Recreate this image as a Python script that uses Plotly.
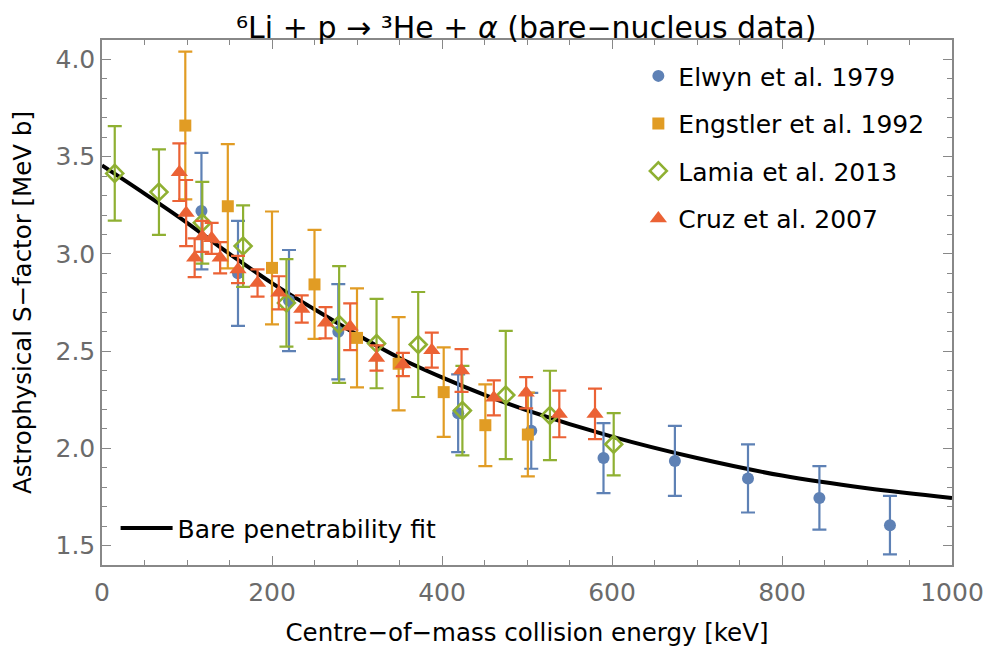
import plotly.graph_objects as go

# Elwyn et al. 1979
elwyn_e = [117, 160, 220, 278, 419, 505, 590, 674, 760, 844, 927]
elwyn_s = [3.22, 2.90, 2.76, 2.60, 2.18, 2.09, 1.95, 1.935, 1.845, 1.745, 1.605]
elwyn_err = [0.30, 0.27, 0.26, 0.245, 0.20, 0.195, 0.18, 0.18, 0.175, 0.163, 0.15]

# Engstler et al. 1992
engstler_e = [98, 148, 200, 250, 300, 349, 402, 451, 501]
engstler_s = [3.66, 3.245, 2.928, 2.843, 2.568, 2.435, 2.289, 2.119, 2.071]
engstler_err = [0.38, 0.32, 0.29, 0.28, 0.255, 0.24, 0.23, 0.21, 0.215]

# Lamia et al. 2013
lamia_e = [15, 67, 118, 166, 217, 279, 323, 372, 424, 475, 527, 602]
lamia_s = [3.414, 3.318, 3.16, 3.04, 2.748, 2.637, 2.539, 2.534, 2.194, 2.274, 2.169, 2.021]
lamia_err = [0.243, 0.22, 0.21, 0.21, 0.225, 0.30, 0.23, 0.27, 0.23, 0.33, 0.23, 0.16]

# Cruz et al. 2007
cruz_e = [91, 99, 109, 118, 129, 139, 160, 183, 208, 235, 263, 292, 323, 354, 388, 423, 461, 499, 538, 580]
cruz_s = [3.42, 3.21, 2.98, 3.09, 3.08, 2.98, 2.92, 2.85, 2.80, 2.717, 2.646, 2.625, 2.465, 2.431,
          2.505, 2.40, 2.26, 2.286, 2.177, 2.177]
cruz_err = [0.148, 0.17, 0.10, 0.08, 0.08, 0.08, 0.07, 0.07, 0.085, 0.07, 0.08, 0.12, 0.065, 0.06,
            0.09, 0.11, 0.09, 0.08, 0.12, 0.13]

# bare penetrability fit
fit_e = [0, 50, 100, 150, 200, 250, 300, 350, 400, 450, 500, 600, 700, 800, 900, 1000]
fit_s = [3.455, 3.31, 3.16, 3.0, 2.85, 2.715, 2.585, 2.465, 2.365, 2.275, 2.195, 2.06, 1.95, 1.86, 1.795, 1.745]

FONT = "DejaVu Sans"
BLUE = "#5E81B5"
ORANGE = "#E19C24"
GREEN = "#8FB032"
RED = "#EB6235"
GREY = "#888888"


def errs(vals, color):
    return dict(type="data", array=vals, visible=True, color=color, thickness=2.2, width=7)


fig = go.Figure()

fig.add_trace(go.Scatter(
    x=fit_e, y=fit_s, mode="lines", name="Bare penetrability fit",
    line=dict(color="black", width=4, shape="spline"), legend="legend2"))

fig.add_trace(go.Scatter(
    x=elwyn_e, y=elwyn_s, mode="markers", name="Elwyn et al. 1979", legendgroup="a",
    marker=dict(symbol="circle", size=12, color=BLUE),
    error_y=errs(elwyn_err, BLUE)))

fig.add_trace(go.Scatter(
    x=engstler_e, y=engstler_s, mode="markers", name="Engstler et al. 1992", legendgroup="b",
    marker=dict(symbol="square", size=12, color=ORANGE),
    error_y=errs(engstler_err, ORANGE)))

fig.add_trace(go.Scatter(
    x=lamia_e, y=lamia_s, mode="markers", name="Lamia et al. 2013", legendgroup="c",
    marker=dict(symbol="diamond-open", size=13, color=GREEN, line=dict(width=2.6, color=GREEN)),
    error_y=errs(lamia_err, GREEN)))

fig.add_trace(go.Scatter(
    x=cruz_e, y=cruz_s, mode="markers", name="Cruz et al. 2007", legendgroup="d",
    marker=dict(symbol="triangle-up", size=15, color=RED),
    error_y=errs(cruz_err, RED)))

axis_common = dict(
    showline=True, linecolor=GREY, linewidth=1.5, mirror="ticks",
    ticks="inside", ticklen=9, tickwidth=1.2, tickcolor=GREY,
    showgrid=False, zeroline=False, automargin=False,
    tickfont=dict(family=FONT, size=25, color="#6b6b6b"),
    title_font=dict(family=FONT, size=24.5, color="black"),
)

# the page body has an 8px margin, so the figure is 16px smaller and margins shifted
fig.update_layout(
    width=976, height=639,
    margin=dict(l=94, r=32, t=32, b=82),
    plot_bgcolor="white", paper_bgcolor="white",
    font=dict(family=FONT, color="black"),
    title=dict(text="\u2076Li + p \u2192 \u00b3He + <i>\u03b1</i> (bare\u2212nucleus data)",
               x=0.531, xanchor="center", y=0.969, yanchor="middle",
               font=dict(family=FONT, size=30, color="black")),
    xaxis=dict(range=[0, 1000], dtick=200, tick0=0, ticklabelstandoff=4,
               minor=dict(dtick=50, ticks="inside", ticklen=5, tickcolor=GREY, tickwidth=1),
               title=dict(text="Centre\u2212of\u2212mass collision energy [keV]", standoff=18),
               **axis_common),
    yaxis=dict(range=[1.4, 4.1], dtick=0.5, tick0=1.5, tickformat=".1f", ticklabelstandoff=0,
               minor=dict(dtick=0.1, ticks="inside", ticklen=5, tickcolor=GREY, tickwidth=1),
               title=dict(text="Astrophysical S\u2212factor [MeV b]", standoff=17),
               **axis_common),
    legend=dict(x=0.631, y=0.975, xanchor="left", yanchor="top",
                bgcolor="rgba(0,0,0,0)", tracegroupgap=12, traceorder="grouped",
                font=dict(family=FONT, size=25, color="black")),
    legend2=dict(x=0.016, y=0.07, xanchor="left", yanchor="middle",
                 bgcolor="rgba(0,0,0,0)", itemwidth=52,
                 font=dict(family=FONT, size=25, color="black")),
)

fig.write_html("out.html")
